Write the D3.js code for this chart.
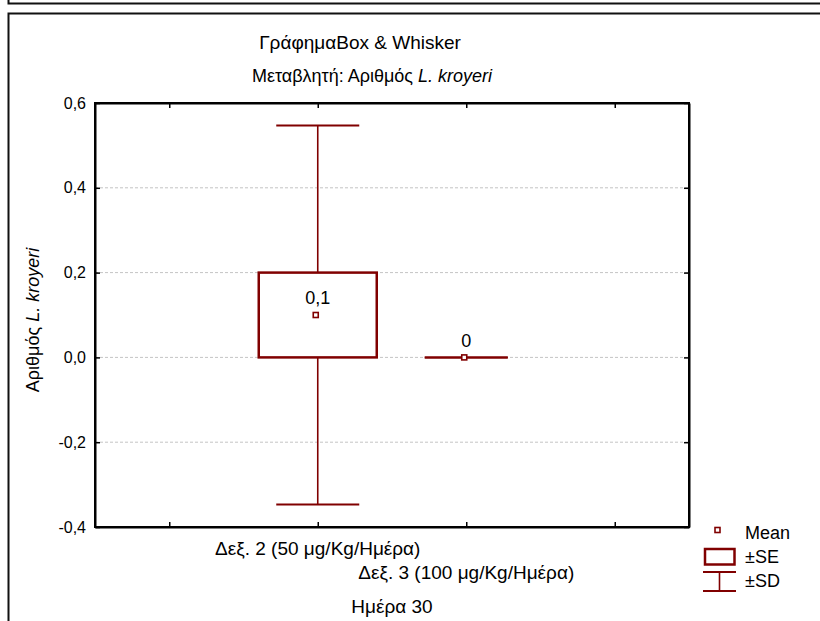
<!DOCTYPE html>
<html><head><meta charset="utf-8">
<script src="https://cdn.jsdelivr.net/npm/d3@7/dist/d3.min.js"></script>
<style>body{margin:0;background:#fff}svg{display:block;font-family:"Liberation Sans",Arial,sans-serif}</style>
</head><body>
<script>
const categories = ["Δεξ. 2 (50 μg/Kg/Ημέρα)", "Δεξ. 3 (100 μg/Kg/Ημέρα)"];
const slots = [0, 1, 2, 3];            // x-axis slots (ticks), categories at slots 1 and 2
const catSlots = [1, 2];
const means = [0.1, 0];
const se = [0.1, 0];
const sd = [0.447, 0];
const yTicks = [-0.4, -0.2, 0.0, 0.2, 0.4, 0.6];
const color = "#800000";

const W = 820, H = 621;
const m = {left: 95, right: 689, top: 103, bottom: 527};
const FS = 18;
const svg = d3.select("body").append("svg").attr("width", W).attr("height", H);

const loc = d3.formatLocale({decimal: ",", thousands: ".", grouping: [3], currency: ["", ""], minus: "-"});
const fTick = loc.format(".1f");
const fLab = v => String(+v.toFixed(2)).replace(".", ",");

// outer frames
svg.append("path").attr("d", "M8.5,0V3.5H820").attr("fill", "none").attr("stroke", "#111").attr("stroke-width", 2);
svg.append("path").attr("d", "M8.5,621V13.5H820").attr("fill", "none").attr("stroke", "#111").attr("stroke-width", 2);

const x = d3.scalePoint().domain(slots).range([m.left, m.right]).padding(0.5);
const y = d3.scaleLinear().domain([-0.4, 0.6]).range([m.bottom, m.top]);

// gridlines
svg.append("g").selectAll("line").data(yTicks.filter(t => t > -0.4 && t < 0.6)).join("line")
  .attr("x1", m.left).attr("x2", m.right).attr("y1", d => y(d)).attr("y2", d => y(d))
  .attr("stroke", "#c4c4c4").attr("stroke-dasharray", "3,2").attr("stroke-width", 1);

// axes
const axL = svg.append("g").attr("transform", `translate(${m.left},0)`)
  .call(d3.axisLeft(y).tickValues(yTicks).tickFormat(fTick).tickSizeInner(-5).tickSizeOuter(0).tickPadding(9));
const axR = svg.append("g").attr("transform", `translate(${m.right},0)`)
  .call(d3.axisRight(y).tickValues(yTicks).tickFormat("").tickSizeInner(-5).tickSizeOuter(0));
const axB = svg.append("g").attr("transform", `translate(0,${m.bottom})`)
  .call(d3.axisBottom(x).tickFormat("").tickSizeInner(-5).tickSizeOuter(0));
const axT = svg.append("g").attr("transform", `translate(0,${m.top})`)
  .call(d3.axisTop(x).tickFormat("").tickSizeInner(-5).tickSizeOuter(0));
[axL, axR, axB, axT].forEach(g => {
  g.select(".domain").attr("stroke", "#000").attr("stroke-width", 2);
  g.selectAll(".tick line").attr("stroke", "#000").attr("stroke-width", 1.5);
});
axL.selectAll(".tick text").attr("font-size", 16).attr("fill", "#000").attr("font-family", "Liberation Sans, Arial, sans-serif");
// close corners
svg.append("rect").attr("x", m.left).attr("y", m.top).attr("width", m.right - m.left).attr("height", m.bottom - m.top)
  .attr("fill", "none").attr("stroke", "#000").attr("stroke-width", 2);

// x category labels
const labY = [548, 572];
svg.append("g").selectAll("text").data(categories).join("text")
  .attr("x", (d, i) => x(catSlots[i])).attr("y", (d, i) => labY[i]).attr("dy", "0.35em")
  .attr("text-anchor", "middle").attr("font-size", 19).attr("fill", "#000").text(d => d);
svg.append("text").attr("x", (m.left + m.right) / 2).attr("y", 606).attr("dy", "0.35em")
  .attr("text-anchor", "middle").attr("font-size", 19).attr("fill", "#000").text("Ημέρα 30");

// y title
const yt = svg.append("text").attr("transform", "translate(33,320) rotate(-90)").attr("text-anchor", "middle")
  .attr("dy", "0.35em").attr("font-size", FS).attr("fill", "#000");
yt.append("tspan").text("Αριθμός ");
yt.append("tspan").attr("font-style", "italic").text("L. kroyeri");

// titles
svg.append("text").attr("x", 360).attr("y", 42).attr("dy", "0.35em").attr("text-anchor", "middle")
  .attr("font-size", 19).attr("fill", "#000").text("ΓράφημαBox & Whisker");
const st = svg.append("text").attr("x", 372).attr("y", 76).attr("dy", "0.35em").attr("text-anchor", "middle")
  .attr("font-size", FS).attr("fill", "#000");
st.append("tspan").text("Μεταβλητή: Αριθμός ");
st.append("tspan").attr("font-style", "italic").text("L. kroyeri");

// boxes
const boxW = 118, capW = 83;
const g = svg.append("g");
categories.forEach((c, i) => {
  const cx = x(catSlots[i]);
  const top = means[i] + sd[i], bot = means[i] - sd[i];
  const seT = means[i] + se[i], seB = means[i] - se[i];
  if (sd[i] > 0) {
    g.append("line").attr("x1", cx).attr("x2", cx).attr("y1", y(top)).attr("y2", y(seT)).attr("stroke", color).attr("stroke-width", 1.6);
    g.append("line").attr("x1", cx).attr("x2", cx).attr("y1", y(seB)).attr("y2", y(bot)).attr("stroke", color).attr("stroke-width", 1.6);
  }
  [top, bot].forEach(v => g.append("line").attr("x1", cx - capW / 2).attr("x2", cx + capW / 2)
    .attr("y1", y(v)).attr("y2", y(v)).attr("stroke", color).attr("stroke-width", 2));
  if (se[i] > 0) {
    g.append("rect").attr("x", cx - boxW / 2).attr("y", y(seT)).attr("width", boxW).attr("height", y(seB) - y(seT))
      .attr("fill", "#fff").attr("stroke", color).attr("stroke-width", 2.5);
  }
  g.append("rect").attr("x", cx - 4.5).attr("y", y(means[i]) - 2.5).attr("width", 5).attr("height", 5)
    .attr("fill", "#fff").attr("stroke", color).attr("stroke-width", 1.6);
  g.append("text").attr("x", cx).attr("y", y(means[i]) - 17).attr("dy", "0.35em").attr("text-anchor", "middle")
    .attr("font-size", FS).attr("fill", "#000").text(fLab(means[i]));
});

// legend
const lg = svg.append("g");
lg.append("rect").attr("x", 715).attr("y", 527.5).attr("width", 5).attr("height", 5).attr("fill", "#fff").attr("stroke", color).attr("stroke-width", 1.6);
lg.append("text").attr("x", 745).attr("y", 533).attr("dy", "0.35em").attr("font-size", FS).attr("fill", "#000").text("Mean");
lg.append("rect").attr("x", 705).attr("y", 549).attr("width", 29.5).attr("height", 15.5).attr("fill", "#fff").attr("stroke", color).attr("stroke-width", 2.5);
lg.append("text").attr("x", 745).attr("y", 557).attr("dy", "0.35em").attr("font-size", FS).attr("fill", "#000").text("±SE");
lg.append("line").attr("x1", 703).attr("x2", 736).attr("y1", 572).attr("y2", 572).attr("stroke", color).attr("stroke-width", 2);
lg.append("line").attr("x1", 703).attr("x2", 736).attr("y1", 591).attr("y2", 591).attr("stroke", color).attr("stroke-width", 2);
lg.append("line").attr("x1", 719.5).attr("x2", 719.5).attr("y1", 572).attr("y2", 591).attr("stroke", color).attr("stroke-width", 1.6);
lg.append("text").attr("x", 745).attr("y", 581).attr("dy", "0.35em").attr("font-size", FS).attr("fill", "#000").text("±SD");
</script>
</body></html>
